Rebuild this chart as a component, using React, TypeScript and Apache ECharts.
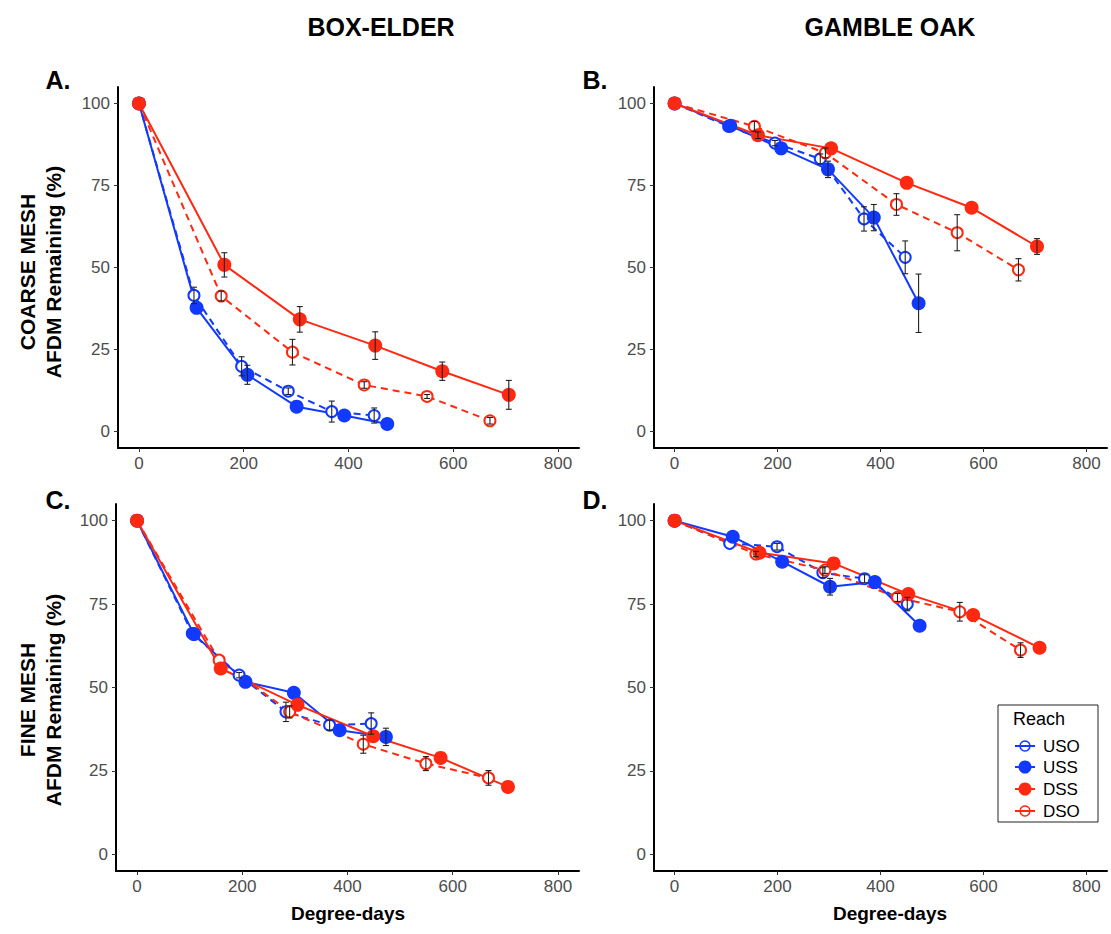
import React, { useEffect, useRef } from "react";
import * as echarts from "echarts";

// ---- data: [degree-days, % AFDM remaining, error (SE)] ----
// A: Box-elder, coarse mesh
const A_USO = [[0, 100, 0], [105, 41.5, 2.5], [196, 19.9, 2.9], [285, 12.3, 1], [368, 6.1, 3.2], [449, 4.9, 2.3]];
const A_USS = [[0, 100, 0], [110, 37.7, 0], [207, 17.3, 2.9], [301, 7.6, 0], [392, 4.9, 0], [474, 2.3, 0]];
const A_DSS = [[0, 100, 0], [163, 50.8, 3.7], [307, 34.2, 3.9], [451, 26.2, 4.2], [579, 18.4, 2.8], [706, 11.2, 4.4]];
const A_DSO = [[0, 100, 0], [157, 41.3, 1.5], [293, 24.2, 3.9], [430, 14.2, 1], [550, 10.7, 0.6], [670, 3.3, 1]];
// B: Gamble oak, coarse mesh
const B_USO = [[0, 100, 0], [105, 93, 0], [195, 87.9, 0.8], [283, 83.1, 1.5], [368, 64.8, 3.7], [448, 53.1, 5]];
const B_USS = [[0, 100, 0], [108, 93.2, 0], [207, 86.3, 0], [298, 79.9, 2.5], [387, 65.2, 4], [474, 39.1, 8.9]];
const B_DSS = [[0, 100, 0], [162, 90.3, 1], [304, 86.3, 0], [451, 75.8, 0], [577, 68.2, 0], [704, 56.4, 2.4]];
const B_DSO = [[0, 100, 0], [155, 93, 1.5], [293, 84.9, 1.5], [431, 69.2, 3.3], [549, 60.6, 5.5], [668, 49.3, 3.4]];
// C: Box-elder, fine mesh
const C_USO = [[0, 100, 0], [105, 66.2, 0], [194, 53.7, 0.8], [283, 42.7, 2.9], [366, 38.7, 1.5], [445, 39.2, 3.2]];
const C_USS = [[0, 100, 0], [108, 66, 0], [206, 51.7, 0], [298, 48.4, 0], [385, 37.2, 0], [473, 35.2, 2.6]];
const C_DSS = [[0, 100, 0], [159, 55.7, 0], [305, 44.8, 0], [449, 35.4, 0], [577, 28.9, 0], [705, 20.2, 0]];
const C_DSO = [[0, 100, 0], [156, 58.2, 0], [290, 42.7, 1.8], [430, 33, 2.7], [549, 27.2, 2.1], [668, 22.9, 2.2]];
// D: Gamble oak, fine mesh
const D_USO = [[0, 100, 0], [107, 93.2, 0], [199, 92.2, 1], [288, 84.4, 1.5], [369, 82.6, 1.2], [452, 75, 2]];
const D_USS = [[0, 100, 0], [113, 95.2, 0], [209, 87.7, 0], [302, 80.2, 2.5], [389, 81.6, 0], [476, 68.5, 0]];
const D_DSS = [[0, 100, 0], [165, 90.4, 0], [309, 87.2, 0], [454, 78, 0], [580, 71.7, 0], [709, 61.9, 0]];
const D_DSO = [[0, 100, 0], [158, 90, 0.8], [292, 85.2, 1], [433, 77, 1.2], [554, 72.7, 2.8], [672, 61.2, 2.2]];

const REACHES = ["USO", "USS", "DSS", "DSO"];
// drawing order (open markers beneath filled ones)
const DRAW_ORDER = [0, 3, 1, 2];
const X_TICKS = [0, 200, 400, 600, 800];
const Y_TICKS = [0, 25, 50, 75, 100];
const COL_TITLES = ["BOX-ELDER", "GAMBLE OAK"];
const PANEL_LETTERS = ["A.", "B.", "C.", "D."];
const ROW_TITLES = ["COARSE MESH", "FINE MESH"];
const Y_TITLE = "AFDM Remaining (%)";
const X_TITLE = "Degree-days";
const LEGEND_TITLE = "Reach";

const PANELS = [
  [A_USO, A_USS, A_DSS, A_DSO],
  [B_USO, B_USS, B_DSS, B_DSO],
  [C_USO, C_USS, C_DSS, C_DSO],
  [D_USO, D_USS, D_DSS, D_DSO],
];

const RED = "#FF2810";
const BLUE = "#1239FF";
const FONT = "'Liberation Sans', Arial, Helvetica, sans-serif";

const GRIDS = [
  { left: 118, top: 87, width: 461, height: 361 },
  { left: 654, top: 87, width: 453, height: 361 },
  { left: 116, top: 504, width: 463, height: 367 },
  { left: 654, top: 504, width: 453, height: 367 },
];

function reachColor(r: string) {
  return r.startsWith("U") ? BLUE : RED;
}

function lineSeries(name: string, data: number[][], gi: number) {
  const open = name.endsWith("O");
  const color = reachColor(name);
  return {
    type: "line",
    name,
    xAxisIndex: gi,
    yAxisIndex: gi,
    data: data.map((d) => [d[0], d[1]]),
    symbol: open ? "emptyCircle" : "circle",
    symbolSize: open ? 11 : 14,
    showAllSymbol: true,
    lineStyle: { color, width: 2, type: open ? [7, 5] : "solid" },
    itemStyle: { color, borderColor: color, borderWidth: open ? 1.5 : 0 },
    emphasis: { disabled: true },
    silent: true,
    z: 2,
  };
}

function errSeries(gi: number, arrs: number[][][]) {
  const data: number[][] = [];
  arrs.forEach((a) => a.forEach((d) => { if (d[2] > 0) data.push(d); }));
  return {
    type: "custom",
    xAxisIndex: gi,
    yAxisIndex: gi,
    z: 5,
    silent: true,
    data,
    encode: { x: 0, y: 1 },
    renderItem: (params: any, api: any) => {
      const x = api.value(0), y = api.value(1), e = api.value(2);
      const t = api.coord([x, y + e]);
      const b = api.coord([x, y - e]);
      const w = 3;
      const style = { stroke: "#222", lineWidth: 1.1 };
      return {
        type: "group",
        children: [
          { type: "line", shape: { x1: t[0], y1: t[1], x2: b[0], y2: b[1] }, style },
          { type: "line", shape: { x1: t[0] - w, y1: t[1], x2: t[0] + w, y2: t[1] }, style },
          { type: "line", shape: { x1: b[0] - w, y1: b[1], x2: b[0] + w, y2: b[1] }, style },
        ],
      };
    },
  };
}

function text(str: string, x: number, y: number, size: number, opts: any = {}) {
  return {
    type: "text",
    x,
    y,
    rotation: opts.rotation || 0,
    style: {
      text: str,
      fontSize: size,
      fontWeight: opts.weight || "normal",
      fontFamily: FONT,
      fill: opts.fill || "#000",
      align: opts.align || "center",
      verticalAlign: "middle",
    },
  };
}

export default function App() {
  const ref = useRef<HTMLDivElement>(null);
  useEffect(() => {
    if (!ref.current) return;
    const chart = echarts.init(ref.current, undefined, { renderer: "svg" });

    const xAxis = GRIDS.map((_, i) => ({
      type: "value",
      gridIndex: i,
      min: -40,
      max: 840,
      axisLine: { show: true, onZero: false, lineStyle: { color: "#000", width: 2 } },
      axisTick: { show: true, length: 4, customValues: X_TICKS, lineStyle: { color: "#333", width: 1 } },
      axisLabel: { customValues: X_TICKS, color: "#4D4D4D", fontSize: 17, margin: 7, fontFamily: FONT },
      splitLine: { show: false },
    }));
    const yAxis = GRIDS.map((_, i) => ({
      type: "value",
      gridIndex: i,
      min: -5,
      max: 105,
      axisLine: { show: true, onZero: false, lineStyle: { color: "#000", width: 2 } },
      axisTick: { show: true, length: 4, customValues: Y_TICKS, lineStyle: { color: "#333", width: 1 } },
      axisLabel: { customValues: Y_TICKS, color: "#4D4D4D", fontSize: 17, margin: 8, fontFamily: FONT },
      splitLine: { show: false },
    }));

    const series: any[] = [];
    PANELS.forEach((arrs, gi) => {
      DRAW_ORDER.forEach((k) => series.push(lineSeries(REACHES[k], arrs[k], gi)));
      series.push(errSeries(gi, arrs));
    });

    const graphic: any[] = [
      text(COL_TITLES[0], 381, 27, 25, { weight: "bold" }),
      text(COL_TITLES[1], 890, 27, 25, { weight: "bold" }),
      text(PANEL_LETTERS[0], 58, 80, 25, { weight: "bold" }),
      text(PANEL_LETTERS[1], 595, 80, 25, { weight: "bold" }),
      text(PANEL_LETTERS[2], 58, 500, 25, { weight: "bold" }),
      text(PANEL_LETTERS[3], 595, 500, 25, { weight: "bold" }),
      text(ROW_TITLES[0], 27, 272, 21, { weight: "bold", rotation: Math.PI / 2 }),
      text(Y_TITLE, 53, 272, 21, { weight: "bold", rotation: Math.PI / 2 }),
      text(ROW_TITLES[1], 27, 700, 21, { weight: "bold", rotation: Math.PI / 2 }),
      text(Y_TITLE, 53, 700, 21, { weight: "bold", rotation: Math.PI / 2 }),
      text(X_TITLE, 348, 913, 19, { weight: "bold" }),
      text(X_TITLE, 890, 913, 19, { weight: "bold" }),
      {
        type: "rect",
        shape: { x: 998, y: 705, width: 100, height: 117 },
        style: { fill: "#fff", stroke: "#222", lineWidth: 1 },
        z: 10,
      },
      { ...text(LEGEND_TITLE, 1013, 719, 18, { align: "left" }), z: 11 },
    ];
    const legendY = [746, 767, 789, 811];
    REACHES.forEach((r, k) => {
      const c = reachColor(r);
      const open = r.endsWith("O");
      const y = legendY[k];
      graphic.push({
        type: "line",
        shape: { x1: 1015, y1: y, x2: 1035, y2: y },
        style: { stroke: c, lineWidth: 2 },
        z: 11,
      });
      graphic.push({
        type: "circle",
        shape: { cx: 1025, cy: y, r: open ? 5 : 6.5 },
        style: open ? { fill: "none", stroke: c, lineWidth: 1.5 } : { fill: c },
        z: 12,
      });
      graphic.push({ ...text(r, 1043, y, 17, { align: "left" }), z: 11 });
    });

    chart.setOption({
      animation: false,
      backgroundColor: "#fff",
      grid: GRIDS.map((g) => ({ ...g, containLabel: false })),
      xAxis,
      yAxis,
      series,
      graphic,
    });
    return () => chart.dispose();
  }, []);
  return <div ref={ref} style={{ position: "absolute", left: 0, top: 0, width: 1111, height: 934 }} />;
}
